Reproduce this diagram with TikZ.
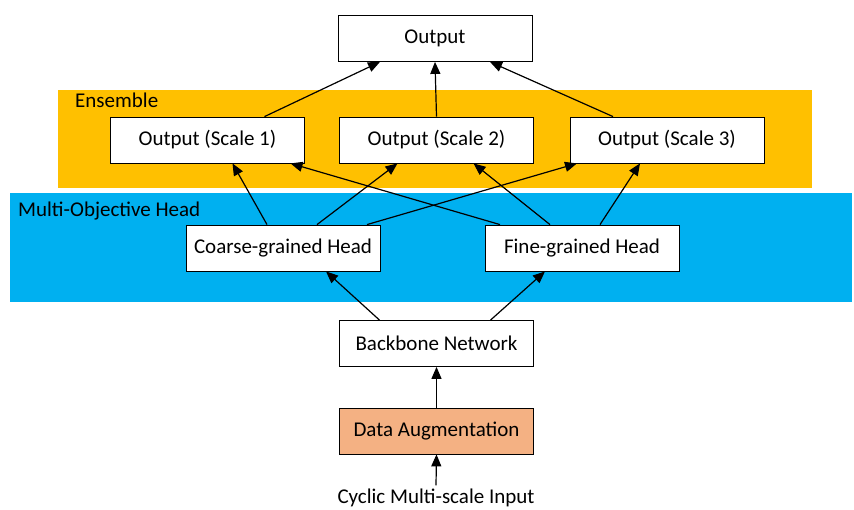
\documentclass[tikz,border=0pt]{standalone}
\usepackage{fontspec}
\setmainfont{Carlito}
\usetikzlibrary{arrows.meta}
\definecolor{ensorange}{RGB}{255,192,0}
\definecolor{headblue}{RGB}{0,176,240}
\definecolor{augsalmon}{RGB}{244,177,131}
\tikzset{
  blk/.style={draw=black, line width=0.8pt, fill=white, minimum width=194pt, minimum height=46pt, inner sep=0pt, font=\fontsize{21}{25}\selectfont},
  arr/.style={-{Triangle[length=12pt,width=10pt]}, line width=1.2pt},
  bandlbl/.style={anchor=north west, inner sep=0pt, font=\fontsize{21}{25}\selectfont}
}
\begin{document}
\begin{tikzpicture}[x=1pt,y=1pt,yscale=-1,xscale=1]
\useasboundingbox (0,0) rectangle (854,510);
% bands
\fill [ensorange] (58,90) rectangle (812,188);
\fill [headblue] (10,193) rectangle (852,302);
\node [bandlbl] (enslbl) at (75,93) {Ensemble};
\node [bandlbl] (headlbl) at (18,202) {Multi-Objective Head};

% boxes
\node [blk] (out) at (435,38.5) {Output};
\node [blk] (sc1) at (207.5,140) {Output (Scale 1)};
\node [blk] (sc2) at (436.5,140) {Output (Scale 2)};
\node [blk] (sc3) at (667,140) {Output (Scale 3)};
\node [blk] (coarse) at (283,248) {Coarse-grained Head};
\node [blk] (fine) at (582,248) {Fine-grained Head};
\node [blk] (bb) at (436.5,343.5) {Backbone Network};
\node [blk, fill=augsalmon] (aug) at (436.5,431) {Data Augmentation};
\node [inner sep=0pt, font=\fontsize{21}{25}\selectfont] (inp) at (436,497.5) {Cyclic Multi-scale Input};

% arrows
\draw [arr] (inp.north) ++(0,-3) -- (aug.south);
\draw [arr] (aug.north) -- (bb.south);
\draw [arr] ([xshift=-57pt]bb.north) -- ([xshift=43pt]coarse.south);
\draw [arr] ([xshift=54pt]bb.north) -- ([xshift=-37pt]fine.south);

\draw [arr] ([xshift=-16pt]coarse.north) -- ([xshift=25pt]sc1.south);
\draw [arr] ([xshift=34pt]coarse.north) -- ([xshift=-39pt]sc2.south);
\draw [arr] ([xshift=84pt]coarse.north) -- ([xshift=-90pt]sc3.south);
\draw [arr] ([xshift=-82pt]fine.north) -- ([xshift=83pt]sc1.south);
\draw [arr] ([xshift=-32pt]fine.north) -- ([xshift=37pt]sc2.south);
\draw [arr] ([xshift=18pt]fine.north) -- ([xshift=-27pt]sc3.south);

\draw [arr] ([xshift=57pt]sc1.north) -- ([xshift=-55pt]out.south);
\draw [arr] (sc2.north) -- (out.south);
\draw [arr] ([xshift=-54pt]sc3.north) -- ([xshift=55pt]out.south);
\end{tikzpicture}
\end{document}
